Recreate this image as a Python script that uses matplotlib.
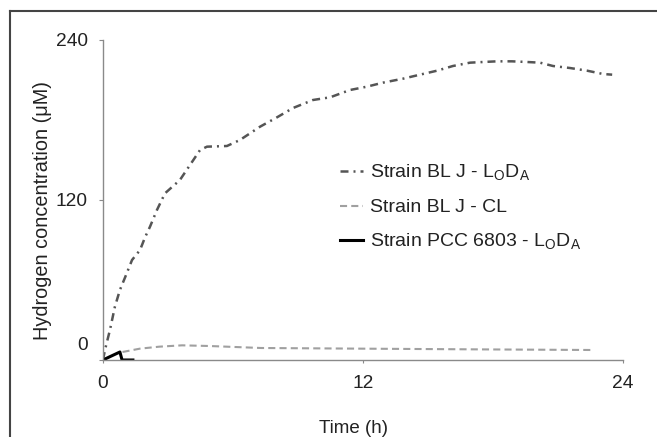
import numpy as np
import matplotlib
matplotlib.use('Agg')
import matplotlib.pyplot as plt
import matplotlib.transforms as mtransforms
from matplotlib.lines import Line2D

plt.rcParams['font.family'] = ['Liberation Sans', 'DejaVu Sans']
plt.rcParams['mathtext.fontset'] = 'custom'
plt.rcParams['mathtext.rm'] = 'Liberation Sans'

# Strain BL J - LoDA (dash-dot)
t_blj_loda = [0, 0.09, 0.32, 0.55, 0.78, 1.02, 1.34, 1.71, 1.94, 2.17, 2.49, 2.86,
              3.55, 4.48, 4.8, 5.72, 6.32, 7.25, 8.03, 8.77, 9.69, 10.48, 11.4,
              12.18, 12.92, 13.85, 14.63, 15.42, 16.15, 16.94, 17.54, 18.18, 18.88,
              19.57, 20.17, 20.77, 21.55, 22.34, 23.08, 23.5]
h2_blj_loda = [0, 7.5, 22.5, 40, 52.5, 62, 75, 82.5, 92, 100, 112.5, 125,
               135, 157.5, 160, 160.5, 165, 175, 182, 189, 195, 197, 202.5,
               205, 208, 211, 214, 217, 220.5, 223, 223.5, 224, 224,
               223.5, 223, 220.5, 219, 217, 214.5, 214]

# Strain BL J - CL (dashed)
t_blj_cl = [0.9, 1.7, 2.6, 3.65, 4.9, 7.3, 12.0, 17.0, 22.6]
h2_blj_cl = [6, 8.5, 10, 11, 10.5, 9, 8.5, 8, 7.5]

# Strain PCC 6803 - LoDA (solid)
t_pcc = [0, 0.32, 0.78, 0.88, 1.38]
h2_pcc = [0, 2.5, 6, 0, 0]

x_ticks = [0, 12, 24]
y_ticks = [0, 120, 240]

labels = [r'Strain BL J - L$_\mathregular{O}$D$_\mathregular{A}$',
          'Strain BL J - CL',
          r'Strain PCC 6803 - L$_\mathregular{O}$D$_\mathregular{A}$']

fig = plt.figure(figsize=(6.57, 4.37), dpi=100)
ax = fig.add_axes([103 / 657, 1 - 360 / 437, 520 / 657, 320 / 437])

ax.plot(t_blj_loda, h2_blj_loda, color='#555555', lw=1.8,
        linestyle=(0, (3.2, 2.0, 0.8, 2.0)), label=labels[0])
ax.plot(t_blj_cl, h2_blj_cl, color='#a0a0a0', lw=1.5,
        linestyle=(0, (3.4, 2.0)), label=labels[1])
ax.plot(t_pcc, h2_pcc, color='black', lw=2.2, label=labels[2])

ax.set_xlim(0, 24)
ax.set_ylim(0, 240)
ax.set_xticks(x_ticks)
ax.set_yticks(y_ticks)
ax.spines['top'].set_visible(False)
ax.spines['right'].set_visible(False)
for s in ['left', 'bottom']:
    ax.spines[s].set_color('#8a8a8a')
    ax.spines[s].set_linewidth(1.0)
ax.tick_params(axis='both', colors='#8a8a8a', labelcolor='#222222', labelsize=13.8)
ax.tick_params(axis='y', length=3, pad=8)
ax.tick_params(axis='x', length=2, pad=9)

# the "0" label on the y axis sits a little above the x axis
lab0 = ax.get_yticklabels()[0]
lab0.set_transform(lab0.get_transform() +
                   mtransforms.ScaledTranslation(0, 17 / 100, fig.dpi_scale_trans))

ax.set_xlabel('Time (h)', fontsize=13.5, color='#222222')
ax.xaxis.set_label_coords((354 - 103) / 520, (360 - 420) / 320)
ax.set_ylabel('Hydrogen concentration (\u03bcM)', fontsize=14.3, color='#222222')
ax.yaxis.set_label_coords((52 - 103) / 520, (360 - 210) / 320)

leg = ax.legend(loc='upper left', bbox_to_anchor=(340 / 657, 1 - 163 / 437),
                bbox_transform=fig.transFigure, frameon=False, fontsize=14,
                handlelength=1.2, handletextpad=0.35, labelspacing=0.8,
                borderpad=0, borderaxespad=0)
for txt in leg.get_texts():
    txt.set_color('#222222')

# frame around the figure (left and top edges visible)
fig.add_artist(Line2D([10 / 657, 10 / 657], [0, 1 - 11 / 437],
                      transform=fig.transFigure, color='#444444', lw=1.5))
fig.add_artist(Line2D([10 / 657, 1], [1 - 11 / 437, 1 - 11 / 437],
                      transform=fig.transFigure, color='#444444', lw=1.5))

fig.savefig('out.png', dpi=100)
